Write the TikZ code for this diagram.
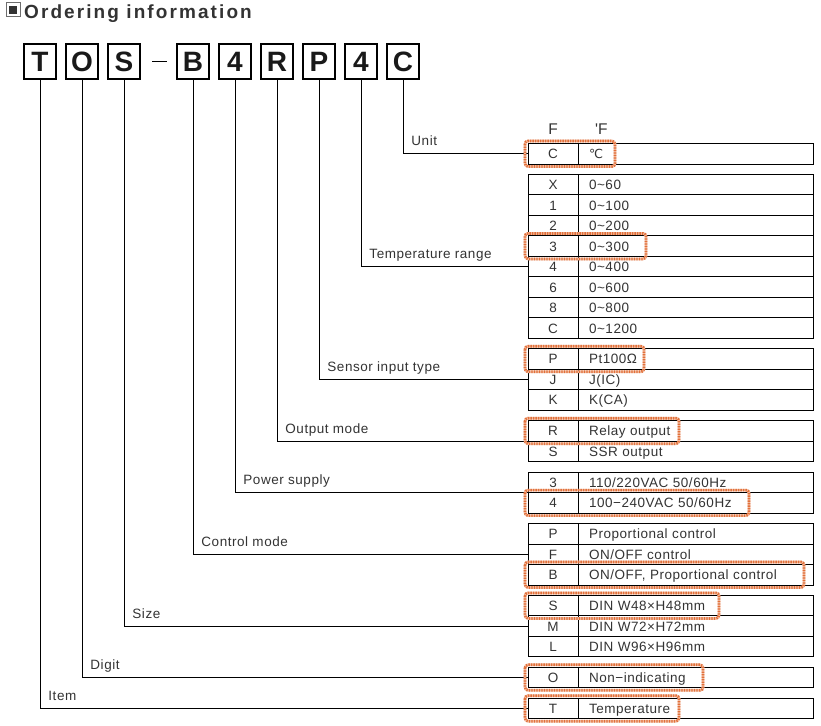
\documentclass[tikz,border=0pt]{standalone}
\usepackage{fontspec}
\setmainfont{Liberation Sans}
\setsansfont{Liberation Sans}
\newfontfamily\tabfont[LetterSpace=4]{Liberation Sans}
\newfontfamily\titlefont[LetterSpace=11]{Liberation Sans}
\newfontfamily\symfont{DejaVu Sans}
\usepackage{xcolor}
\usepackage{tikz}
\usetikzlibrary{positioning}

\definecolor{textgray}{HTML}{333333}
\definecolor{titlegray}{HTML}{333333}
\definecolor{iconrim}{HTML}{6E6E6E}
\definecolor{pickorange}{HTML}{E2703A}

\begin{document}
\begin{tikzpicture}[
      x=1pt, y=1pt,
      node distance=10pt,
      codebox/.style={
        draw,
        line width=1.5pt,
        outer sep=0pt,
        inner sep=0pt,
        minimum width=32pt,
        minimum height=35pt,
        font=\fontsize{28}{28}\selectfont\bfseries,
        text=black!90
      },
      keycell/.style={
        draw,
        line width=0.9pt,
        outer sep=0pt,
        inner sep=0pt,
        minimum width=50pt,
        minimum height=20.5pt,
        text height=9.7pt,
        text depth=0pt,
        font=\tabfont\fontsize{13.5}{15}\selectfont,
        text=textgray
      },
      desccell/.style={
        draw,
        line width=0.9pt,
        outer sep=0pt,
        inner xsep=11pt,
        inner ysep=0pt,
        text width=213pt,
        minimum height=20.5pt,
        align=left,
        text height=9.7pt,
        text depth=0pt,
        font=\tabfont\fontsize{13.5}{15}\selectfont,
        text=textgray
      },
      headcell/.style={
        inner sep=0pt,
        text height=10.5pt,
        text depth=0pt,
        font=\fontsize{15.5}{17}\selectfont,
        text=textgray
      },
      wire/.style={
        line width=0.9pt
      },
      lbl/.style={
        anchor=base west,
        inner sep=0pt,
        xshift=8pt,
        yshift=8pt,
        font=\tabfont\fontsize{13.5}{15}\selectfont,
        text=textgray
      },
      chosen/.style={
        draw=pickorange,
        line width=2.7pt,
        rounded corners=3pt,
        dash pattern=on 1.3pt off 1.2pt,
        preaction={draw=pickorange!45!white, line width=2.7pt, rounded corners=3pt}
      }
    ]

    \useasboundingbox (0,0) rectangle (821,-725);

    % title
    \node[draw=iconrim, fill=white, line width=1pt, inner sep=3pt, outer sep=0pt] (icon) at (13,-10)
      {\textcolor{titlegray}{\rule{8pt}{8pt}}};
    \node[anchor=base west, inner sep=0pt, text=titlegray,
      font=\titlefont\fontsize{19}{21}\selectfont\bfseries] (title) at (24,-18.5) {Ordering information};

    % model code
    \node[codebox] (item) at (40,-61.5) {T};
    \node[codebox, right=of item] (digit) {O};
    \node[codebox, right=of digit] (size) {S};
    \node[codebox, right=37pt of size] (ctrl) {B};
    \node[codebox, right=of ctrl] (pwr) {4};
    \node[codebox, right=of pwr] (outp) {R};
    \node[codebox, right=of outp] (sens) {P};
    \node[codebox, right=of sens] (rng) {4};
    \node[codebox, right=of rng] (unit) {C};
    \draw[wire] ([xshift=12pt]size.east) -- ([xshift=-10pt]ctrl.west);

    % unit
    \node[keycell] (untC) at (553,-153.75) {C};
    \node[desccell, right=0pt of untC] (untCd) {\symfont\fontsize{12.5}{14}\selectfont ℃};
    \node[headcell, above=9pt of untC] (hdF) {F};
    \node[headcell, above right=9pt and 17pt of untCd.north west] (hdFF) {\textquotesingle F};

    % temperature range
    \node[keycell, below=10.4pt of untC] (rngX) {X};
    \node[desccell, right=0pt of rngX] (rngXd) {0\textasciitilde60};
    \node[keycell, below=0pt of rngX] (rng1) {1};
    \node[desccell, right=0pt of rng1] (rng1d) {0\textasciitilde100};
    \node[keycell, below=0pt of rng1] (rng2) {2};
    \node[desccell, right=0pt of rng2] (rng2d) {0\textasciitilde200};
    \node[keycell, below=0pt of rng2] (rng3) {3};
    \node[desccell, right=0pt of rng3] (rng3d) {0\textasciitilde300};
    \node[keycell, below=0pt of rng3] (rng4) {4};
    \node[desccell, right=0pt of rng4] (rng4d) {0\textasciitilde400};
    \node[keycell, below=0pt of rng4] (rng6) {6};
    \node[desccell, right=0pt of rng6] (rng6d) {0\textasciitilde600};
    \node[keycell, below=0pt of rng6] (rng8) {8};
    \node[desccell, right=0pt of rng8] (rng8d) {0\textasciitilde800};
    \node[keycell, below=0pt of rng8] (rngC) {C};
    \node[desccell, right=0pt of rngC] (rngCd) {0\textasciitilde1200};

    % sensor input
    \node[keycell, below=10.4pt of rngC] (senP) {P};
    \node[desccell, right=0pt of senP] (senPd) {Pt100Ω};
    \node[keycell, below=0pt of senP] (senJ) {J};
    \node[desccell, right=0pt of senJ] (senJd) {J(IC)};
    \node[keycell, below=0pt of senJ] (senK) {K};
    \node[desccell, right=0pt of senK] (senKd) {K(CA)};

    % output
    \node[keycell, below=10.4pt of senK] (outR) {R};
    \node[desccell, right=0pt of outR] (outRd) {Relay output};
    \node[keycell, below=0pt of outR] (outS) {S};
    \node[desccell, right=0pt of outS] (outSd) {SSR output};

    % power supply
    \node[keycell, below=10.4pt of outS] (pwr3) {3};
    \node[desccell, right=0pt of pwr3] (pwr3d) {110/220VAC 50/60Hz};
    \node[keycell, below=0pt of pwr3] (pwr4) {4};
    \node[desccell, right=0pt of pwr4] (pwr4d) {100−240VAC 50/60Hz};

    % control mode
    \node[keycell, below=10.4pt of pwr4] (ctlP) {P};
    \node[desccell, right=0pt of ctlP] (ctlPd) {Proportional control};
    \node[keycell, below=0pt of ctlP] (ctlF) {F};
    \node[desccell, right=0pt of ctlF] (ctlFd) {ON/OFF control};
    \node[keycell, below=0pt of ctlF] (ctlB) {B};
    \node[desccell, right=0pt of ctlB] (ctlBd) {ON/OFF, Proportional control};

    % size
    \node[keycell, below=10.4pt of ctlB] (sizS) {S};
    \node[desccell, right=0pt of sizS] (sizSd) {DIN W48×H48mm};
    \node[keycell, below=0pt of sizS] (sizM) {M};
    \node[desccell, right=0pt of sizM] (sizMd) {DIN W72×H72mm};
    \node[keycell, below=0pt of sizM] (sizL) {L};
    \node[desccell, right=0pt of sizL] (sizLd) {DIN W96×H96mm};

    % digit, item
    \node[keycell, below=10.4pt of sizL] (digO) {O};
    \node[desccell, right=0pt of digO] (digOd) {Non−indicating};
    \node[keycell, below=10.4pt of digO] (itmT) {T};
    \node[desccell, right=0pt of itmT] (itmTd) {Temperature};

    % connectors
    \draw[wire] (unit.south) |- node[lbl, pos=0.5] {Unit} (untC.west);
    \draw[wire] (rng.south) |- node[lbl, pos=0.5] {Temperature range} (rng4.west);
    \draw[wire] (sens.south) |- node[lbl, pos=0.5] {Sensor input type} (senJ.west);
    \draw[wire] (outp.south) |- node[lbl, pos=0.5] {Output mode} (outR.south west);
    \draw[wire] (pwr.south) |- node[lbl, pos=0.5] {Power supply} (pwr3.south west);
    \draw[wire] (ctrl.south) |- node[lbl, pos=0.5] {Control mode} (ctlF.west);
    \draw[wire] (size.south) |- node[lbl, pos=0.5] {Size} (sizM.west);
    \draw[wire] (digit.south) |- node[lbl, pos=0.5] {Digit} (digO.west);
    \draw[wire] (item.south) |- node[lbl, pos=0.5] {Item} (itmT.west);

    % selected codes
    \draw[chosen] ([shift={(-3pt,2.5pt)}]untC.north west) rectangle ([shift={(37pt,-2.5pt)}]untC.south east);
    \draw[chosen] ([shift={(-3pt,2.5pt)}]rng3.north west) rectangle ([shift={(68pt,-2.5pt)}]rng3.south east);
    \draw[chosen] ([shift={(-3pt,2.5pt)}]senP.north west) rectangle ([shift={(66pt,-2.5pt)}]senP.south east);
    \draw[chosen] ([shift={(-3pt,2.5pt)}]outR.north west) rectangle ([shift={(101pt,-2.5pt)}]outR.south east);
    \draw[chosen] ([shift={(-3pt,2.5pt)}]pwr4.north west) rectangle ([shift={(171pt,-2.5pt)}]pwr4.south east);
    \draw[chosen] ([shift={(-3pt,2.5pt)}]ctlB.north west) rectangle ([shift={(226pt,-2.5pt)}]ctlB.south east);
    \draw[chosen] ([shift={(-3pt,2.5pt)}]sizS.north west) rectangle ([shift={(141pt,-2.5pt)}]sizS.south east);
    \draw[chosen] ([shift={(-3pt,2.5pt)}]digO.north west) rectangle ([shift={(125pt,-2.5pt)}]digO.south east);
    \draw[chosen] ([shift={(-3pt,2.5pt)}]itmT.north west) rectangle ([shift={(101pt,-2.5pt)}]itmT.south east);

    \end{tikzpicture}
\end{document}
